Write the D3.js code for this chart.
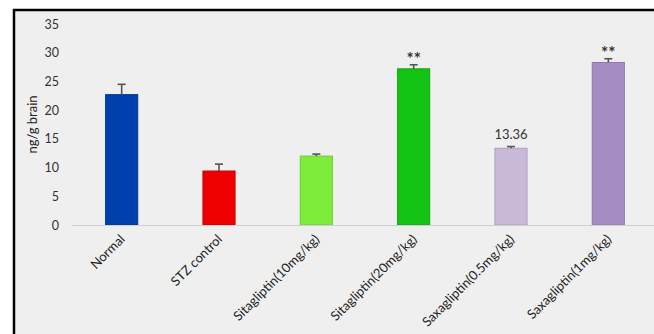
<!DOCTYPE html>
<html>
<head>
<meta charset="utf-8">
<script src="https://cdn.jsdelivr.net/npm/d3@7"></script>
<style>
  html, body { margin: 0; padding: 0; background: #ffffff; }
  svg { display: block; }
  text { font-family: Lato, "Open Sans", sans-serif; }
</style>
</head>
<body>
<svg id="chart" width="654" height="334"></svg>
<script>
// Brain levels per treatment group (ng/g brain)
const groups = ["Normal", "STZ control", "Sitagliptin(10mg/kg)", "Sitagliptin(20mg/kg)", "Saxagliptin(0.5mg/kg)", "Saxagliptin(1mg/kg)"];
const means = [22.7, 9.4, 12.0, 27.2, 13.36, 28.3];
const errors = [1.8, 1.2, 0.35, 0.7, 0.3, 0.65];
const marks = ["", "", "", "**", "13.36", "**"];
const barColors = ["#003fae", "#ee0000", "#7eec3a", "#13c313", "#c9b9d8", "#a68cc5"];
const yTicks = [0, 5, 10, 15, 20, 25, 30, 35];

const svg = d3.select("#chart");
const W = 654, H = 334;

// framed panel
svg.append("rect").attr("x", 14).attr("y", 10).attr("width", W - 14).attr("height", H - 10)
  .attr("fill", "#efefef");
svg.append("line").attr("x1", 13).attr("x2", W).attr("y1", 10).attr("y2", 10)
  .attr("stroke", "#000").attr("stroke-width", 2.5);
svg.append("line").attr("x1", 14).attr("x2", 14).attr("y1", 9).attr("y2", H)
  .attr("stroke", "#000").attr("stroke-width", 2.5);

const x = d3.scaleBand().domain(groups).range([73, 657]).paddingInner(0.67).paddingOuter(0.335);
const y = d3.scaleLinear().domain([0, 35]).range([225, 24]);

// y tick labels (no axis line)
const yAxis = svg.append("g").attr("transform", "translate(62,0)")
  .call(d3.axisLeft(y).tickValues(yTicks).tickSize(0).tickPadding(3));
yAxis.select(".domain").remove();
yAxis.selectAll("text").attr("font-size", 12.5).attr("fill", "#333")
  .style("font-family", "Lato, sans-serif");

svg.append("text")
  .attr("transform", `translate(37,${y(17.5)}) rotate(-90)`)
  .attr("text-anchor", "middle")
  .attr("font-size", 13).attr("fill", "#222")
  .text("ng/g brain");

// bars
svg.append("g").selectAll("rect").data(groups).join("rect")
  .attr("x", d => x(d))
  .attr("y", (d, i) => y(means[i]))
  .attr("width", x.bandwidth())
  .attr("height", (d, i) => y(0) - y(means[i]))
  .attr("fill", (d, i) => barColors[i])
  .attr("stroke", (d, i) => d3.color(barColors[i]).darker(0.4))
  .attr("stroke-width", 1);

// category axis line
svg.append("line").attr("x1", 72).attr("x2", W).attr("y1", y(0) + 0.5).attr("y2", y(0) + 0.5)
  .attr("stroke", "#cfcfcf").attr("stroke-width", 1.2);

// upper error whiskers
const eb = svg.append("g").attr("stroke", "#555").attr("stroke-width", 1.6);
groups.forEach((g, i) => {
  const cx = x(g) + x.bandwidth() / 2;
  eb.append("line").attr("x1", cx).attr("x2", cx)
    .attr("y1", y(means[i])).attr("y2", y(means[i] + errors[i]));
  eb.append("line").attr("x1", cx - 4).attr("x2", cx + 4)
    .attr("y1", y(means[i] + errors[i])).attr("y2", y(means[i] + errors[i]));
});

// significance marks and value label
svg.append("g").selectAll("text").data(groups).join("text")
  .attr("x", d => x(d) + x.bandwidth() / 2)
  .attr("y", (d, i) => y(means[i] + errors[i]) - (marks[i] === "**" ? 0 : 8))
  .attr("text-anchor", "middle")
  .attr("font-size", (d, i) => marks[i] === "**" ? 17 : 13)
  .attr("font-weight", (d, i) => marks[i] === "**" ? "bold" : "normal")
  .attr("fill", "#333")
  .text((d, i) => marks[i]);

// rotated category labels
svg.append("g").selectAll("text").data(groups).join("text")
  .attr("transform", d => `translate(${x(d) + x.bandwidth() / 2 + 4},${y(0) + 15}) rotate(-45)`)
  .attr("text-anchor", "end")
  .attr("font-size", 13).attr("fill", "#222")
  .text(d => d);
</script>
</body>
</html>
